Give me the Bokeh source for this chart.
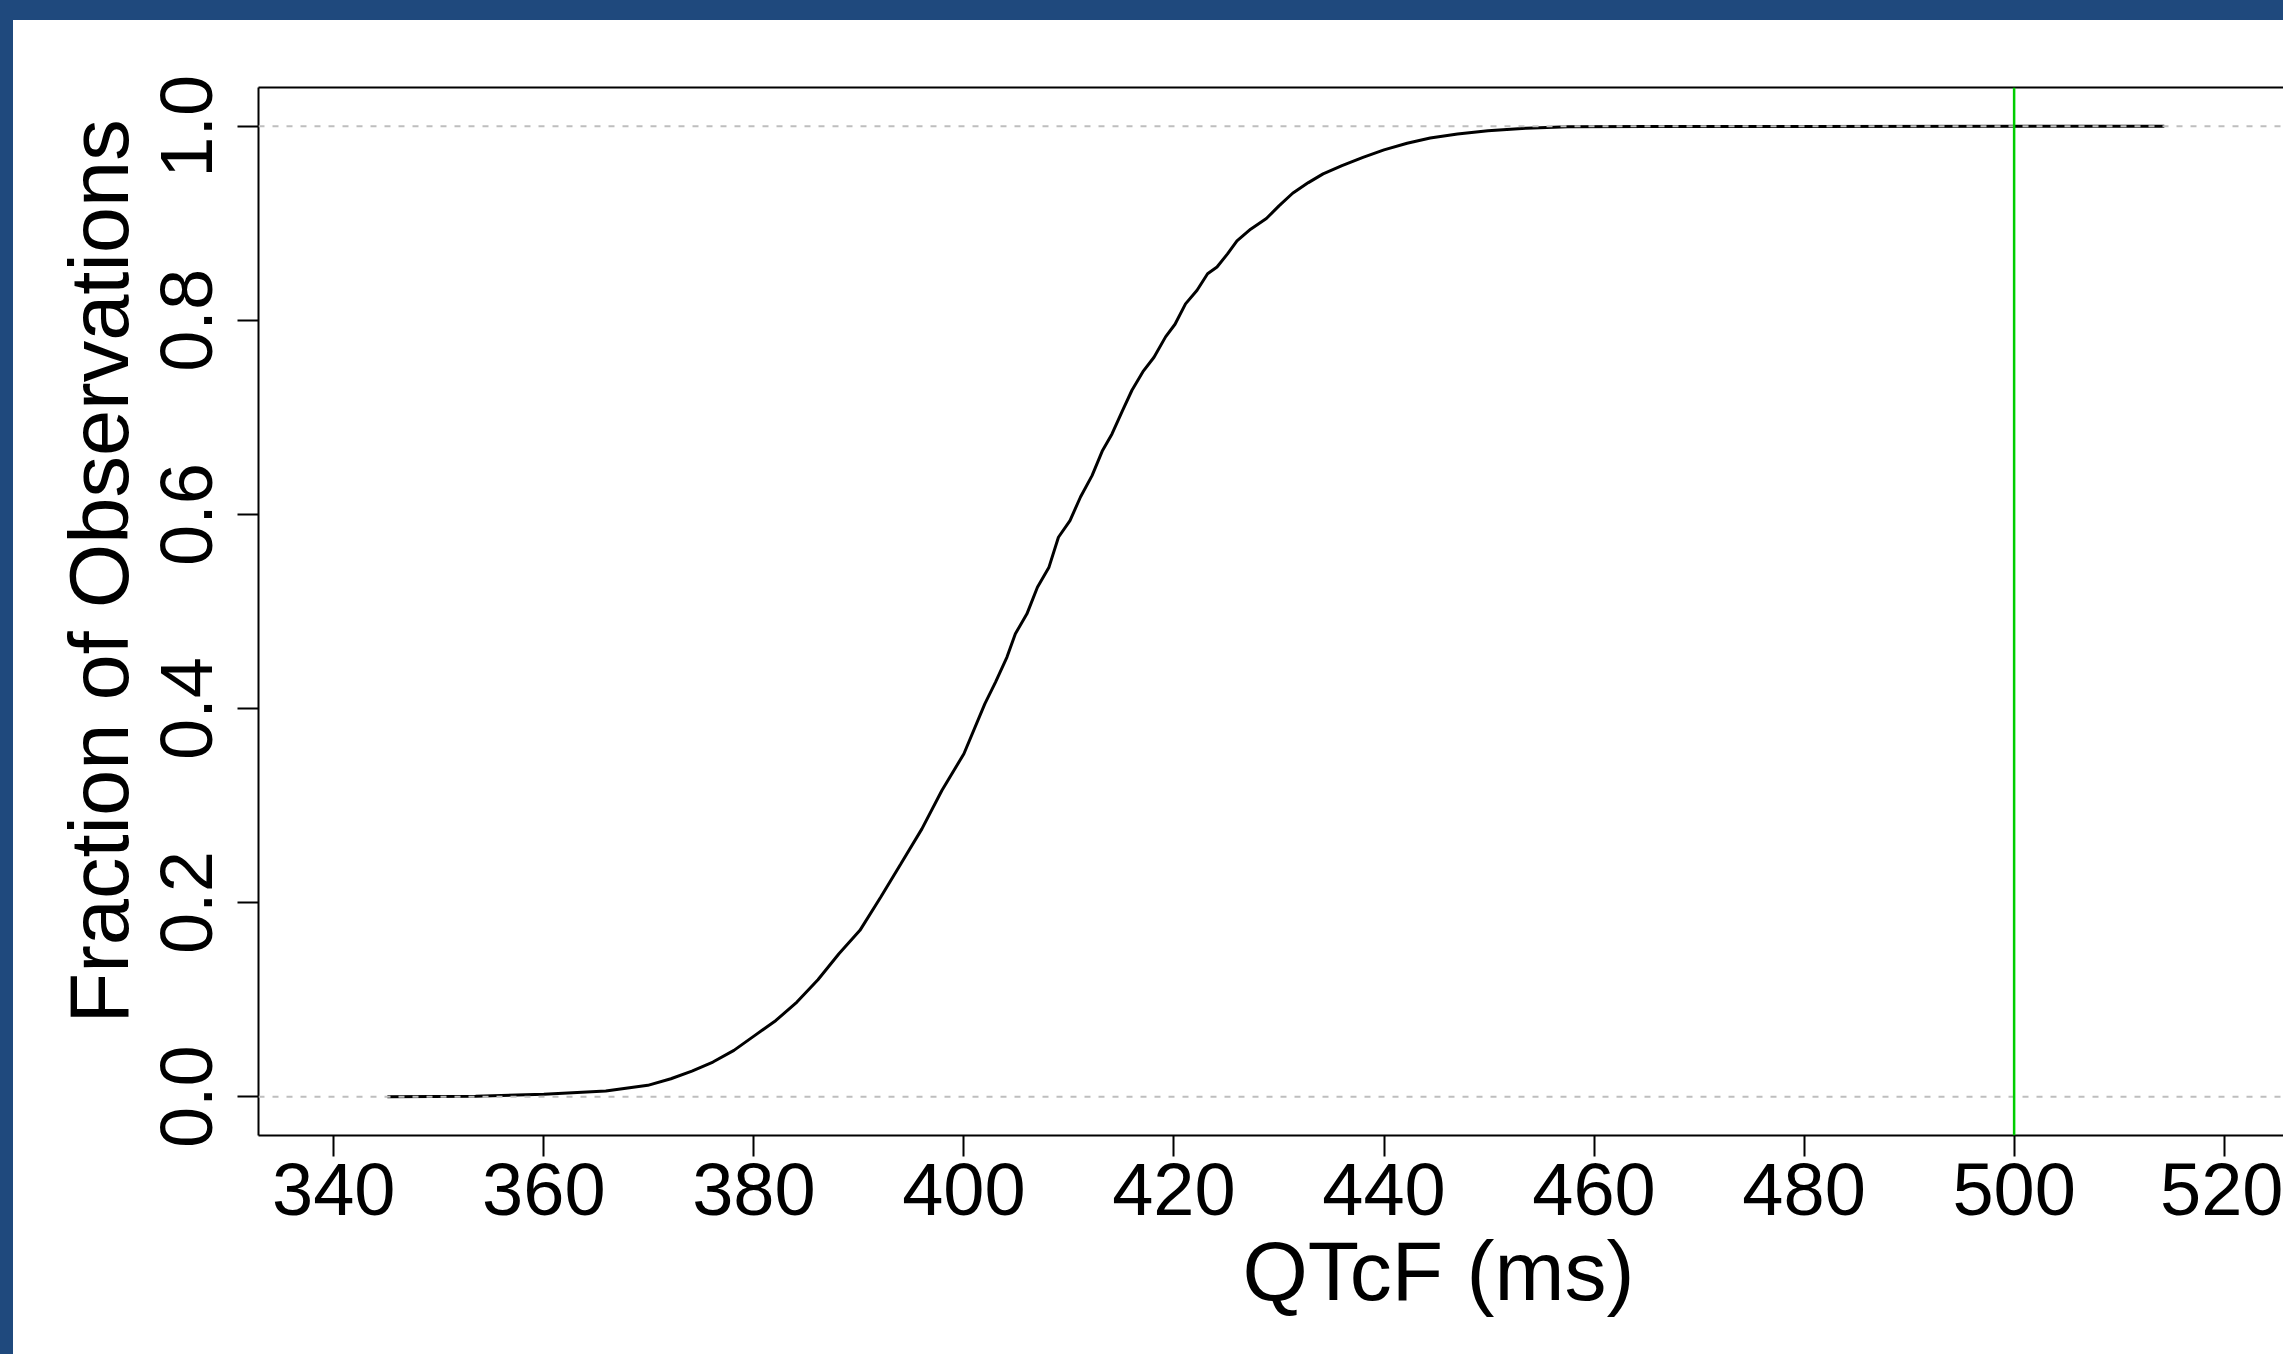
import math
from bokeh.plotting import figure
from bokeh.models import Span, Title, FixedTicker, PrintfTickFormatter, LinearAxis, Spacer, Range1d
from bokeh.layouts import column, row
from bokeh.embed import file_html
from bokeh.resources import INLINE

# ECDF of QTcF
qtcf = [345.1, 353.5, 360.0, 365.9, 369.9, 372.1, 374.1, 376.1, 378.1, 380.1,
        382.1, 384.1, 386.1, 388.1, 390.1, 392.1, 394.0, 396.0, 397.9, 400.0,
        402.0, 403.0, 404.1, 404.9, 406.0, 407.0, 408.1, 409.0, 410.1, 411.1,
        412.2, 413.2, 414.1, 415.1, 416.0, 417.1, 418.1, 419.2, 420.1, 421.1,
        422.2, 423.2, 424.1, 425.1, 426.0, 427.3, 428.8, 430.0, 431.3, 432.8,
        434.2, 436.0, 438.0, 440.0, 442.2, 444.4, 447.0, 449.9, 453.5, 457.5,
        465.0, 480.0, 514.3]
fraction = [0.0000, 0.0005, 0.0024, 0.0058, 0.0117, 0.0185, 0.0264, 0.0357, 0.0477, 0.0632,
            0.0786, 0.0975, 0.1205, 0.1473, 0.1714, 0.2060, 0.2400, 0.2760, 0.3156, 0.3534,
            0.4050, 0.4270, 0.4530, 0.4770, 0.4976, 0.5250, 0.5457, 0.5765, 0.5937, 0.6180,
            0.6400, 0.6660, 0.6830, 0.7070, 0.7280, 0.7480, 0.7620, 0.7830, 0.7960, 0.8170,
            0.8310, 0.8480, 0.8550, 0.8685, 0.8820, 0.8940, 0.9050, 0.9180, 0.9310, 0.9420,
            0.9510, 0.9595, 0.9680, 0.9757, 0.9826, 0.9880, 0.9920, 0.9955, 0.9980, 0.9995,
            0.9998, 0.9999, 1.0000]
x_ticks = [340, 360, 380, 400, 420, 440, 460, 480, 500, 520]
y_ticks = [0.0, 0.2, 0.4, 0.6, 0.8, 1.0]
ref_levels = [0.0, 1.0]
threshold = 500
x_title = "QTcF (ms)"
y_title = "Fraction of Observations"

BLUE = "#1F497D"
FONT = "Liberation Sans"

p = figure(width=2270, height=1334,
           x_range=Range1d(332.83, 525.65), y_range=Range1d(-0.04, 1.04),
           output_backend="svg", toolbar_location=None,
           min_border_left=245, min_border_right=0,
           min_border_top=67, min_border_bottom=219)
p.xgrid.visible = False
p.ygrid.visible = False
p.outline_line_color = None
p.background_fill_color = "white"
p.border_fill_color = "white"

p.line(qtcf, fraction, line_color="black", line_width=3)

for lvl in ref_levels:
    p.add_layout(Span(location=lvl, dimension="width", line_color="#BEBEBE",
                      line_width=2, line_dash="6 8"))
p.add_layout(Span(location=threshold, dimension="height", line_color="#00CD00",
                  line_width=2.5))

for ax in (p.xaxis[0], p.yaxis[0]):
    ax.major_label_text_font = FONT
    ax.major_label_text_font_size = "74px"
    ax.major_label_text_color = "black"
    ax.major_tick_out = 21
    ax.major_tick_in = 0
    ax.minor_tick_out = 0
    ax.minor_tick_in = 0
    ax.minor_tick_line_color = None
    ax.axis_line_width = 2
    ax.axis_line_color = "black"
    ax.major_tick_line_width = 2
    ax.major_tick_line_color = "black"

p.xaxis.ticker = FixedTicker(ticks=x_ticks)
p.xaxis.major_label_standoff = 7
p.yaxis.ticker = FixedTicker(ticks=y_ticks)
p.yaxis.formatter = PrintfTickFormatter(format="%.1f")
p.yaxis.major_label_orientation = "parallel"
p.yaxis.major_label_standoff = 25

top = LinearAxis(ticker=FixedTicker(ticks=[]), major_label_text_font_size="0px",
                 major_tick_out=0, major_tick_in=0, minor_tick_out=0, minor_tick_in=0,
                 axis_line_width=2, axis_line_color="black")
p.add_layout(top, "above")

p.add_layout(Title(text=x_title, align="left", offset=984, standoff=9,
                   text_font=FONT, text_font_size="84px", text_font_style="normal",
                   text_color="black"), "below")
p.add_layout(Title(text=y_title, align="left", offset=112, standoff=25,
                   text_font=FONT, text_font_size="83px", text_font_style="normal",
                   text_color="black"), "left")

top_band = Spacer(width=2283, height=20, styles={"background-color": BLUE})
left_band = Spacer(width=13, height=1334, styles={"background-color": BLUE})
layout = column(top_band, row(left_band, p, spacing=0), spacing=0)

open("out.html", "w").write(file_html(layout, INLINE))
